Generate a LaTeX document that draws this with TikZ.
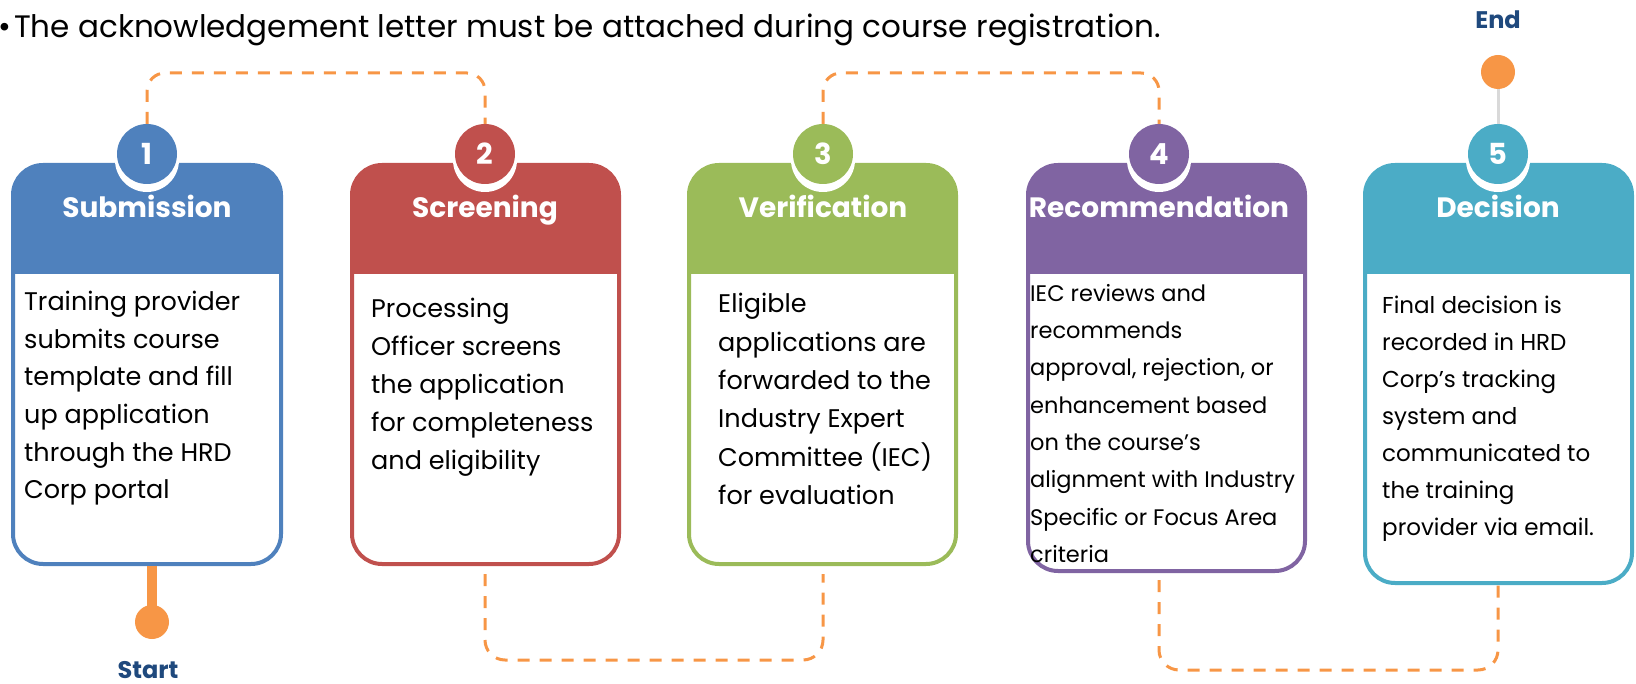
\documentclass[tikz,border=0pt]{standalone}
\usepackage{fontspec}
\setmainfont{Poppins}
\usetikzlibrary{positioning, calc}

\definecolor{stepblue}{HTML}{4F81BD}
\definecolor{stepred}{HTML}{C0504D}
\definecolor{stepgreen}{HTML}{9BBB59}
\definecolor{steppurple}{HTML}{8064A2}
\definecolor{stepteal}{HTML}{4BACC6}
\definecolor{steporange}{HTML}{F79646}
\definecolor{stepnavy}{HTML}{1F497D}
\definecolor{stepgray}{HTML}{D9D9D9}

\begin{document}
\begin{tikzpicture}[x=1pt, y=-1pt,
    card/.style={draw=#1, fill=white, line width=4pt, rounded corners=30pt, inner sep=0pt,
        path picture={\fill[#1, sharp corners] (path picture bounding box.north west) rectangle ([yshift=-109pt]path picture bounding box.north east);}},
    ring/.style={circle, fill=white, minimum size=64pt, inner sep=0pt},
    num/.style={circle, fill=#1, text=white, minimum size=60pt, inner sep=0pt, font=\bfseries\fontsize{29pt}{29pt}\selectfont},
    title/.style={anchor=base, text=white, inner sep=0pt, font=\bfseries\fontsize{28pt}{28pt}\selectfont},
    body/.style n args={2}{anchor=north west, align=left, inner sep=0pt, font=\fontsize{#1pt}{#2pt}\selectfont},
    flow/.style={draw=steporange, line width=3pt, dash pattern=on 12pt off 10pt, rounded corners=18pt},
    tip/.style={circle, fill=steporange, minimum size=34pt, inner sep=0pt},
    ends/.style={text=stepnavy, inner sep=0pt, font=\bfseries\fontsize{24pt}{24pt}\selectfont}]
    \useasboundingbox (0,0) rectangle (1636,684);

    % Note line above the flow
    \node[anchor=base west, inner sep=0pt, font=\fontsize{31pt}{31pt}\selectfont] (note) at (14,38)
        {\llap{\textbullet\hspace{3pt}}The acknowledgement letter must be attached during course registration.};

    % Step cards
    \node[card=stepblue, minimum width=268pt, minimum height=399pt] (b1) at (147,364.5) {};
    \node[card=stepred, minimum width=267pt, minimum height=399pt] (b2) at (485.5,364.5) {};
    \node[card=stepgreen, minimum width=267pt, minimum height=399pt] (b3) at (822.5,364.5) {};
    \node[card=steppurple, minimum width=277pt, minimum height=406pt] (b4) at (1166.5,368) {};
    \node[card=stepteal, minimum width=267pt, minimum height=418pt] (b5) at (1498.5,374) {};

    \node[body={25.5}{37.6}] (x1) at (24,291) {Training provider\\submits course\\template and fill\\up application\\through the HRD\\Corp portal};
    \node[body={25.5}{38}] (x2) at (371,298) {Processing\\Officer screens\\the application\\for completeness\\and eligibility};
    \node[body={25.5}{38.4}] (x3) at (718,293) {Eligible\\applications are\\forwarded to the\\Industry Expert\\Committee (IEC)\\for evaluation};
    \node[body={22.5}{37.3}] (x4) at (1030,284) {IEC reviews and\\recommends\\approval, rejection, or\\enhancement based\\on the course’s\\alignment with Industry\\Specific or Focus Area\\criteria};
    \node[body={23}{37}] (x5) at (1382,296) {Final decision is\\recorded in HRD\\Corp’s tracking\\system and\\communicated to\\the training\\provider via email.};

    % Number badges and titles
    \foreach \n/\x/\c/\t in {1/147/stepblue/Submission, 2/485/stepred/Screening, 3/823/stepgreen/Verification, 4/1159/steppurple/Recommendation, 5/1498/stepteal/Decision} {
        \node[ring] (r\n) at (\x,160) {};
        \node[num=\c] (c\n) at (\x,154) {\n};
        \node[title] (t\n) at (\x,218) {\t};
    }

    % Dashed links between the steps
    \coordinate (hi) at (0,73);
    \coordinate (lo23) at (0,660);
    \coordinate (lo45) at (0,670);
    \draw[flow] (c1.north) |- (hi -| c2) -- (c2.north);
    \draw[flow] (c3.north) |- (hi -| c4) -- (c4.north);
    \draw[flow, rounded corners=20pt] ([yshift=-8pt]b2.south -| c2) |- (lo23 -| c3) -- ([yshift=-8pt]b3.south -| c3);
    \draw[flow, rounded corners=20pt] ([yshift=-7pt]b4.south -| c4) |- (lo45 -| c5) -- ([yshift=5pt]b5.south -| c5);

    % Start and end markers
    \node[tip] (sdot) at (152,622) {};
    \draw[line width=10pt, steporange] (b1.south -| sdot) -- (sdot.center);
    \node[ends] (stxt) at (148,670) {Start};
    \node[tip] (edot) at (1498,72) {};
    \draw[line width=3pt, stepgray] (edot) -- (c5);
    \node[ends] (etxt) at (1498,20) {End};
\end{tikzpicture}
\end{document}
